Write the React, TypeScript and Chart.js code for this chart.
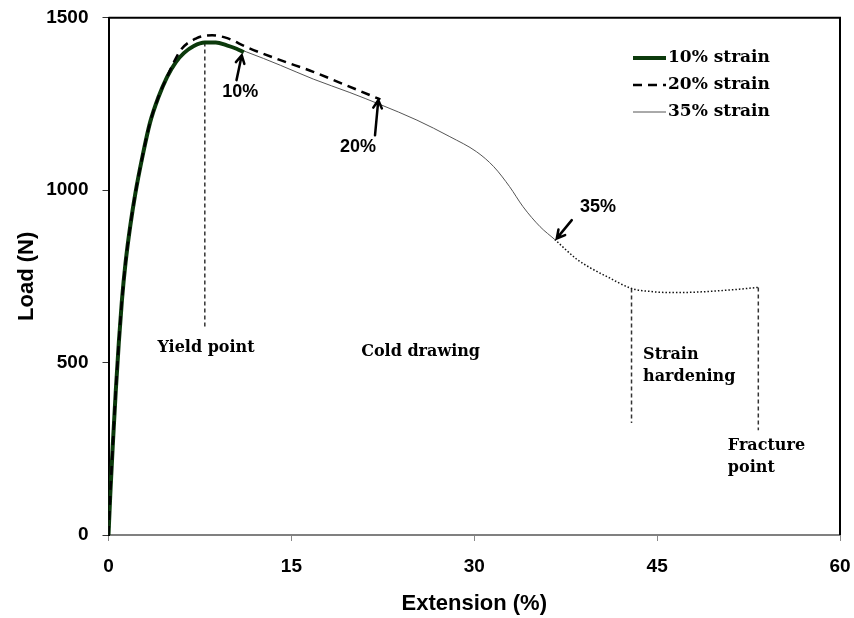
import React, { useEffect, useRef } from 'react';
import { Chart, registerables } from 'chart.js';
Chart.register(...registerables);

// Axis ticks
const xTickValues = [0, 15, 30, 45, 60];
const yTickValues = [0, 500, 1000, 1500];

// Shared rising part of the curves (Extension %, Load N)
const riseExt = [0, 0.15, 0.35, 0.6, 0.85, 1.1, 1.4, 1.8, 2.2, 2.8, 3.4, 4.1, 4.8];
const riseLoad = [0, 120, 260, 420, 560, 680, 790, 900, 990, 1100, 1195, 1270, 1328];

// 10% strain
const ext10 = [5.5, 6.2, 7.0, 7.9, 8.8, 9.7, 10.5, 11.1];
const load10 = [1370, 1398, 1418, 1428, 1428, 1420, 1410, 1400];

// 20% strain
const ext20 = [5.9, 7.2, 8.5, 9.8, 11.3, 14.1, 16.8, 19.5, 22.3];
const load20 = [1405, 1440, 1449, 1440, 1415, 1377, 1343, 1304, 1263];

// 35% strain (solid part)
const ext35 = [5.5, 6.2, 7.0, 7.9, 8.8, 9.7, 11.3, 14.1, 16.8, 19.8, 22.3, 25.3, 28.0, 30.2, 31.6, 32.9, 34.0, 35.4, 36.6];
const load35 = [1370, 1398, 1418, 1428, 1428, 1420, 1401, 1362, 1322, 1283, 1248, 1203, 1155, 1111, 1068, 1010, 952, 894, 857];

// continuation after 35% up to fracture (dotted)
const extTail = [36.6, 38.4, 39.5, 40.9, 42.9, 44.5, 46.3, 48.0, 49.6, 51.5, 53.3];
const loadTail = [857, 800, 775, 749, 715, 706, 703, 704, 707, 712, 718];

// Vertical marker lines: [x, yTop, yBottom]
const yieldLine = [7.9, 1428, 600];
const hardeningLine = [42.9, 715, 325];
const fractureLine = [53.3, 718, 304];

// Arrows: [tailX, tailY, tipX, tipY, labelX, labelY]
const arrowLabels = ['10%', '20%', '35%'];
const arrows = [
  [10.5, 1319, 10.93, 1391, 10.8, 1284],
  [21.86, 1159, 22.13, 1261, 20.47, 1125],
  [38.0, 913, 36.77, 860, 40.15, 951],
];

// Region labels: text lines, x, y (first line), align
const regionLabels: { lines: string[]; x: number; y: number; align: CanvasTextAlign }[] = [
  { lines: ['Yield point'], x: 8.0, y: 542, align: 'center' },
  { lines: ['Cold drawing'], x: 25.6, y: 530, align: 'center' },
  { lines: ['Strain', 'hardening'], x: 43.85, y: 522, align: 'left' },
  { lines: ['Fracture', 'point'], x: 50.8, y: 258, align: 'left' },
];

const legendLabels = ['10% strain', '20% strain', '35% strain'];

function pts(xs: number[], ys: number[]) {
  return xs.map((x, i) => ({ x, y: ys[i] }));
}

const serif = '"DejaVu Serif", "Liberation Serif", serif';
const sans = '"Liberation Sans", Arial, sans-serif';

export default function App() {
  const ref = useRef<HTMLCanvasElement>(null);
  useEffect(() => {
    if (!ref.current) return;
    const green = '#0c3a0c';
    const vline = (v: number[]) => ({
      data: [{ x: v[0], y: v[1] }, { x: v[0], y: v[2] }],
      borderColor: '#333',
      borderWidth: 1.5,
      borderDash: [4, 3],
      pointRadius: 0,
      order: 5,
    });
    const overlay = {
      id: 'overlay',
      afterDatasetsDraw(chart: any) {
        const { ctx, chartArea: a, scales } = chart;
        const xs = scales.x, ys = scales.y;
        ctx.save();
        // frame top + right
        ctx.strokeStyle = '#000';
        ctx.lineWidth = 2;
        ctx.beginPath();
        ctx.moveTo(a.left, a.top);
        ctx.lineTo(a.right, a.top);
        ctx.lineTo(a.right, a.bottom);
        ctx.stroke();
        // arrows
        arrows.forEach((ar, i) => {
          const x1 = xs.getPixelForValue(ar[0]), y1 = ys.getPixelForValue(ar[1]);
          const x2 = xs.getPixelForValue(ar[2]), y2 = ys.getPixelForValue(ar[3]);
          ctx.strokeStyle = '#000';
          ctx.lineWidth = 2.5;
          ctx.lineCap = 'round';
          ctx.beginPath();
          ctx.moveTo(x1, y1);
          ctx.lineTo(x2, y2);
          const ang = Math.atan2(y2 - y1, x2 - x1);
          const h = 9;
          ctx.moveTo(x2 - h * Math.cos(ang - 0.5), y2 - h * Math.sin(ang - 0.5));
          ctx.lineTo(x2, y2);
          ctx.lineTo(x2 - h * Math.cos(ang + 0.5), y2 - h * Math.sin(ang + 0.5));
          ctx.stroke();
          ctx.fillStyle = '#000';
          ctx.font = `bold 18px ${sans}`;
          ctx.textAlign = 'center';
          ctx.textBaseline = 'middle';
          ctx.fillText(arrowLabels[i], xs.getPixelForValue(ar[4]), ys.getPixelForValue(ar[5]));
        });
        // region labels
        ctx.font = `bold 16px ${serif}`;
        ctx.fillStyle = '#000';
        ctx.textBaseline = 'middle';
        regionLabels.forEach((r) => {
          ctx.textAlign = r.align;
          r.lines.forEach((ln, j) => {
            ctx.fillText(ln, xs.getPixelForValue(r.x), ys.getPixelForValue(r.y) + j * 22);
          });
        });
        // legend
        const ds = chart.data.datasets;
        ctx.font = `bold 17px ${serif}`;
        ctx.textAlign = 'left';
        for (let i = 0; i < 3; i++) {
          const d = ds[i];
          const y = 58 + i * 27;
          ctx.strokeStyle = d.borderColor;
          ctx.lineWidth = d.borderWidth;
          ctx.setLineDash(d.borderDash || []);
          ctx.lineCap = 'butt';
          ctx.beginPath();
          ctx.moveTo(633, y);
          ctx.lineTo(666, y);
          ctx.stroke();
          ctx.setLineDash([]);
          ctx.fillStyle = '#000';
          ctx.fillText(legendLabels[i], 668, y);
        }
        ctx.restore();
      },
    };
    const chart = new Chart(ref.current, {
      type: 'line',
      data: {
        datasets: [
          {
            label: legendLabels[0],
            data: pts(riseExt.concat(ext10), riseLoad.concat(load10)),
            borderColor: green,
            borderWidth: 4,
            pointRadius: 0,
            cubicInterpolationMode: 'monotone',
            order: 2,
          },
          {
            label: legendLabels[1],
            data: pts(riseExt.concat(ext20), riseLoad.concat(load20)),
            borderColor: '#000',
            borderWidth: 2.5,
            borderDash: [9, 6],
            pointRadius: 0,
            cubicInterpolationMode: 'monotone',
            order: 1,
          },
          {
            label: legendLabels[2],
            data: pts(riseExt.concat(ext35), riseLoad.concat(load35)),
            borderColor: '#555',
            borderWidth: 1,
            pointRadius: 0,
            cubicInterpolationMode: 'monotone',
            order: 3,
          },
          {
            label: 'tail',
            data: pts(extTail, loadTail),
            borderColor: '#111',
            borderWidth: 1.5,
            borderDash: [1.5, 2],
            pointRadius: 0,
            cubicInterpolationMode: 'monotone',
            order: 4,
          },
          vline(yieldLine),
          vline(hardeningLine),
          vline(fractureLine),
        ] as any,
      },
      options: {
        responsive: false,
        animation: false,
        devicePixelRatio: 1,
        layout: { padding: { top: 17.7, right: 14, left: 0, bottom: 0 } },
        plugins: { legend: { display: false }, tooltip: { enabled: false } },
        scales: {
          x: {
            type: 'linear',
            min: 0,
            max: 60,
            afterFit: (s: any) => { s.height = 83; s.paddingLeft = 0; s.paddingRight = 0; },
            afterBuildTicks: (s: any) => { s.ticks = xTickValues.map((v) => ({ value: v })); },
            grid: { drawOnChartArea: false, drawTicks: true, tickLength: 6, tickColor: '#888', tickWidth: 1 },
            border: { color: '#808080', width: 2 },
            ticks: { color: '#000', padding: 14, font: { family: sans, size: 19, weight: 'bold' }, maxRotation: 0, callback: (v: any) => String(v) },
            title: { display: true, text: 'Extension (%)', color: '#000', font: { family: sans, size: 22, weight: 'bold' }, padding: { bottom: 1, top: 0 } },
          },
          y: {
            type: 'linear',
            min: 0,
            max: 1500,
            afterFit: (s: any) => { s.width = 108.5; s.paddingTop = 0; s.paddingBottom = 0; },
            afterBuildTicks: (s: any) => { s.ticks = yTickValues.map((v) => ({ value: v })); },
            grid: { drawOnChartArea: false, drawTicks: true, tickLength: 6, tickColor: '#333', tickWidth: 1 },
            border: { color: '#000', width: 2 },
            ticks: { color: '#000', padding: 14, font: { family: sans, size: 19, weight: 'bold' }, callback: (v: any) => String(v) },
            title: { display: true, text: 'Load (N)', color: '#000', font: { family: sans, size: 22, weight: 'bold' }, padding: { top: 14, bottom: 0 } },
          },
        },
      } as any,
      plugins: [overlay],
    });
    return () => chart.destroy();
  }, []);
  return (
    <div style={{ position: 'fixed', left: 0, top: 0, width: 854, height: 618, background: '#fff' }}>
      <canvas ref={ref} width={854} height={618} style={{ display: 'block' }} />
    </div>
  );
}
